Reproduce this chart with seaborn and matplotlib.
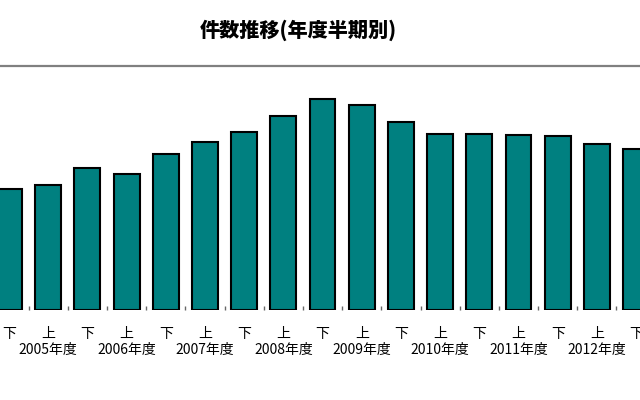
import matplotlib
matplotlib.use("Agg")
import matplotlib.pyplot as plt
import seaborn as sns
import pandas as pd
from matplotlib.lines import Line2D
from matplotlib.ticker import FixedLocator

sns.set_theme(style="white")
plt.rcParams['font.family'] = ['Noto Sans CJK JP', 'DejaVu Sans']

# Data (relative units; no y axis shown)
periods = ["2004下", "2005上", "2005下", "2006上", "2006下", "2007上", "2007下",
           "2008上", "2008下", "2009上", "2009下", "2010上", "2010下", "2011上",
           "2011下", "2012上", "2012下"]
halves = ["下", "上", "下", "上", "下", "上", "下", "上", "下", "上", "下", "上",
          "下", "上", "下", "上", "下"]
years = ["", "2005年度", "", "2006年度", "", "2007年度", "", "2008年度", "",
         "2009年度", "", "2010年度", "", "2011年度", "", "2012年度", ""]
counts = [121, 125, 142, 136, 156, 168, 178, 194, 211, 205, 188, 176, 176,
          175, 174, 166, 161]

df = pd.DataFrame({"period": periods, "count": counts})

fig = plt.figure(figsize=(6.4, 4.0), dpi=100)
ax = fig.add_axes([0.0, 0.225, 1.0, 0.61])

sns.barplot(data=df, x="period", y="count", color="#008080", saturation=1,
            width=0.66, edgecolor="black", linewidth=1.5, ax=ax)

ax.set_xlim(-0.23, 16.1)
ax.set_ylim(0, 244)
ax.set_xlabel("")
ax.set_ylabel("")
ax.set_yticks([])
for s in ax.spines.values():
    s.set_visible(False)

labels = [h if y == "" else f"{h}\n{y}" for h, y in zip(halves, years)]
ax.set_xticks(range(len(periods)))
ax.set_xticklabels(labels, fontsize=10, color="black", linespacing=1.2)
ax.tick_params(axis="x", which="major", length=0, pad=12)
ax.xaxis.set_minor_locator(FixedLocator([i + 0.5 for i in range(-1, len(periods))]))
ax.tick_params(axis="x", which="minor", bottom=True, direction="in", length=3,
               width=1, color="#666666")

fig.text(0.466, 1 - 30 / 400, "件数推移(年度半期別)", ha="center", va="center",
         fontsize=14.5, fontweight="heavy", color="black")
fig.add_artist(Line2D([0, 1], [1 - 66 / 400, 1 - 66 / 400], color="#808080",
                      lw=1.6, transform=fig.transFigure))

fig.savefig("out.png", dpi=100)
